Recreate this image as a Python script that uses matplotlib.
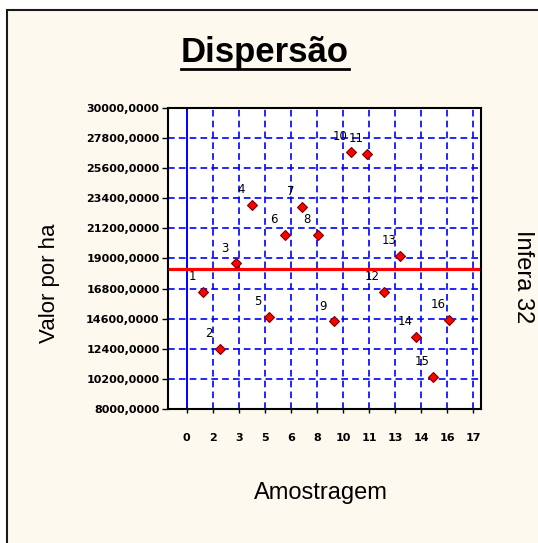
import matplotlib
matplotlib.use("Agg")
import matplotlib.pyplot as plt
from matplotlib.patches import Rectangle
from matplotlib.lines import Line2D
import numpy as np

W, H = 538, 543

# amostras e valores
amostras = list(range(1, 17))
valores = [16580, 12420, 18650, 22900, 14750, 20700, 22780, 20700,
           14400, 26820, 26650, 16580, 19190, 13250, 10350, 14530]
rotulos = [str(a) for a in amostras]

yticks = [8000, 10200, 12400, 14600, 16800, 19000, 21200, 23400, 25600, 27800, 30000]
xtick_labels = ["0", "2", "3", "5", "6", "8", "10", "11", "13", "14", "16", "17"]
xtick_max = 17.45

media = np.mean(valores)


def fx(px):
    return px / W


def fy(py):
    return 1 - py / H


fig = plt.figure(figsize=(W / 100, H / 100), dpi=100)
fig.patch.set_facecolor("white")

# moldura creme
fig.add_artist(Rectangle((fx(7), -0.1), 1.2, fy(10) + 0.1, transform=fig.transFigure,
                         facecolor="#fef9ee", edgecolor="#1a1a1a", linewidth=1.5, zorder=0))

ax = fig.add_axes([fx(168), fy(409), fx(481) - fx(168), fy(108) - fy(409)])
ax.set_facecolor("white")

xticks = np.linspace(0, xtick_max, len(xtick_labels))
ax.set_xlim(-1.14, 17.93)
ax.set_ylim(8000, 30000)
ax.set_xticks(xticks)
ax.set_xticklabels(xtick_labels)
ax.set_yticks(yticks)
ax.set_yticklabels([f"{v},0000" for v in yticks])

# grade azul tracejada
for xt in xticks[1:]:
    ax.axvline(xt, color="#0000ff", lw=1.2, ls=(0, (4, 2.5)), zorder=1)
for yt in yticks[1:-1]:
    ax.axhline(yt, color="#0000ff", lw=1.2, ls=(0, (4, 2.5)), zorder=1)
ax.axvline(0, color="#0000ff", lw=1.4, zorder=1)

# linha da media
ax.axhline(media, color="#ff0000", lw=2.3, zorder=2)

ax.plot(amostras, valores, ls="none", marker="D", markersize=5.5,
        markerfacecolor="#ff0000", markeredgecolor="#7a0000", markeredgewidth=0.8, zorder=3)
for a, v, r in zip(amostras, valores, rotulos):
    ax.annotate(r, (a, v), xytext=(-8, 11), textcoords="offset points",
                ha="center", va="center", fontsize=8.5, color="black", zorder=4)

for s in ax.spines.values():
    s.set_color("black")
    s.set_linewidth(1.5)

ax.tick_params(axis="y", direction="out", length=4, width=1, pad=2, labelsize=8)
ax.tick_params(axis="x", direction="out", length=3, width=1, pad=14, labelsize=8)
for lab in ax.get_xticklabels() + ax.get_yticklabels():
    lab.set_fontweight("bold")

fam = ["Liberation Sans", "DejaVu Sans"]
titulo = fig.text(fx(265), fy(62), "Dispersão", ha="center", va="baseline",
                  fontsize=25, fontweight="bold", family=fam)
fig.text(fx(50), fy(283), "Valor por ha", rotation=90, ha="center", va="center",
         fontsize=16, family=fam)
fig.text(fx(321), fy(493), "Amostragem", ha="center", va="center",
         fontsize=17, family=fam)
fig.text(fx(523), fy(277), "Infera 32", rotation=-90, ha="center", va="center",
         fontsize=17, family=fam)

# sublinhado do titulo
fig.canvas.draw()
bb = titulo.get_window_extent()
fig.add_artist(Line2D([bb.x0 / W, bb.x1 / W], [fy(68.5), fy(68.5)],
                      transform=fig.transFigure, color="black", lw=2))

fig.savefig("out.png", dpi=100, facecolor=fig.get_facecolor())
